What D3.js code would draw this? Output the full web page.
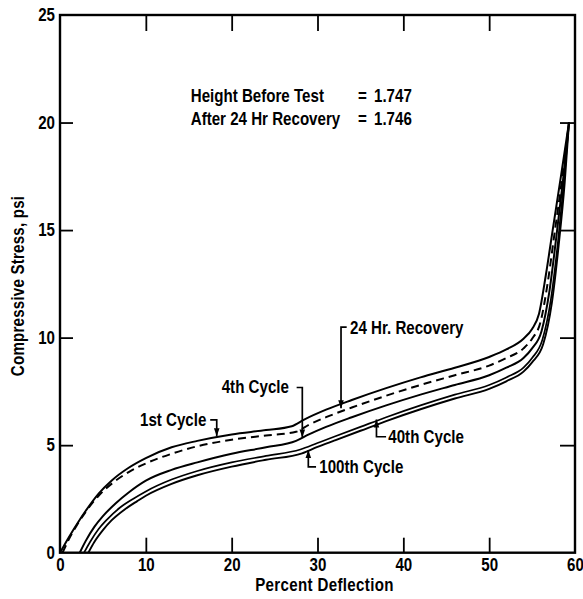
<!DOCTYPE html>
<html><head><meta charset="utf-8">
<script src="https://cdn.jsdelivr.net/npm/d3@7"></script>
<style>
body{margin:0;background:#fff}
svg{display:block}
text{font-family:"Liberation Sans",Arial,sans-serif;font-weight:bold;fill:#000}
</style></head><body><svg id="chart" width="583" height="599"></svg>
<script>
// ---- data ----
const deflectionTicks = [0, 10, 20, 30, 40, 50, 60];
const stressTicks = [0, 5, 10, 15, 20, 25];

const cycle1X = [0, 1, 2, 3, 4.5, 6, 8, 10, 13, 16, 20, 24, 27, 28.5, 31, 34, 38, 42, 46, 50, 52, 54, 55, 55.8, 56.6, 57.4, 58.4, 59.3];
const cycle1Y = [0, 0.7, 1.35, 1.95, 2.75, 3.35, 3.95, 4.4, 4.9, 5.2, 5.5, 5.7, 5.88, 6.2, 6.65, 7.1, 7.65, 8.15, 8.6, 9.1, 9.45, 9.95, 10.4, 11.1, 12.9, 15.0, 17.6, 20];

const recoveryX = [0.3, 1, 2, 3, 4.5, 6, 8, 10, 13, 16, 20, 24, 27.5, 29, 31, 34, 38, 42, 46, 50, 52, 54, 55, 56, 56.8, 57.6, 58.5, 59.3];
const recoveryY = [0, 0.6, 1.3, 1.9, 2.65, 3.2, 3.75, 4.15, 4.6, 4.95, 5.25, 5.45, 5.62, 5.95, 6.3, 6.75, 7.3, 7.8, 8.25, 8.7, 9.05, 9.5, 9.95, 10.75, 12.5, 14.8, 17.4, 20];

const cycle4X = [2.3, 3, 4, 5, 6.5, 8, 10, 13, 16, 20, 24, 27.5, 29, 31, 34, 38, 42, 46, 50, 52, 54, 55, 56.1, 57, 57.8, 58.6, 59.3];
const cycle4Y = [0, 0.55, 1.2, 1.7, 2.3, 2.8, 3.35, 3.85, 4.2, 4.6, 4.9, 5.2, 5.5, 5.85, 6.3, 6.85, 7.35, 7.8, 8.25, 8.6, 9.05, 9.5, 10.3, 12.1, 14.6, 17.3, 20];

const cycle40X = [2.8, 3.5, 4.5, 5.5, 7, 8.5, 10, 13, 16, 20, 24, 28, 30, 32, 35, 38, 42, 46, 50, 52, 54, 55, 56.2, 57.2, 58, 58.7, 59.3];
const cycle40Y = [0, 0.5, 1.1, 1.55, 2.1, 2.5, 2.85, 3.4, 3.8, 4.2, 4.5, 4.8, 5.1, 5.4, 5.85, 6.3, 6.85, 7.35, 7.8, 8.15, 8.6, 9.05, 9.9, 11.8, 14.4, 17.2, 20];

const cycle100X = [3.3, 4, 5, 6, 7.5, 9, 10, 13, 16, 20, 24, 28.2, 30, 32, 35, 38, 42, 46, 50, 52, 54, 55, 56.3, 57.3, 58.1, 58.8, 59.3];
const cycle100Y = [0, 0.5, 1.05, 1.5, 2.0, 2.4, 2.65, 3.2, 3.6, 4.0, 4.32, 4.62, 4.92, 5.22, 5.67, 6.12, 6.67, 7.17, 7.62, 7.97, 8.42, 8.85, 9.7, 11.6, 14.3, 17.2, 20];

const noteLines = [["Height Before Test", "=", "1.747"], ["After 24 Hr Recovery", "=", "1.746"]];

// ---- layout ----
const SX = 0.84; // horizontal squeeze for the narrow lettering
const svg = d3.select("#chart");
const M = {left: 60, right: 8, top: 15, bottom: 46.3};
const W = 583, H = 599;
const x = d3.scaleLinear().domain([0, 60]).range([M.left, W - M.right]);
const y = d3.scaleLinear().domain([0, 25]).range([H - M.bottom, M.top]);

function label(px, py, str, opts = {}) {
  const {anchor = "start", rot = 0, size = 18, ls = 0} = opts;
  return svg.append("text")
    .attr("transform", `translate(${px},${py}) rotate(${rot}) scale(${SX},1)`)
    .attr("text-anchor", anchor).style("font-size", size + "px").style("letter-spacing", ls + "px").text(str);
}

const series = [
  {xs: cycle1X, ys: cycle1Y, dash: null, w: 2},
  {xs: recoveryX, ys: recoveryY, dash: "8,5", w: 2},
  {xs: cycle4X, ys: cycle4Y, dash: null, w: 2},
  {xs: cycle40X, ys: cycle40Y, dash: null, w: 1.7},
  {xs: cycle100X, ys: cycle100Y, dash: null, w: 1.9}
];

const line = d3.line().x(d => x(d[0])).y(d => y(d[1])).curve(d3.curveMonotoneX);

// axes with inward ticks
const gB = svg.append("g").attr("transform", `translate(0,${y(0)})`)
  .call(d3.axisBottom(x).tickValues(deflectionTicks).tickSize(-15).tickSizeOuter(0).tickPadding(6).tickFormat(d3.format("d")));
const gL = svg.append("g").attr("transform", `translate(${x(0)},0)`)
  .call(d3.axisLeft(y).tickValues(stressTicks).tickSize(-13).tickSizeOuter(0).tickPadding(6).tickFormat(d3.format("d")));
const gT = svg.append("g").attr("transform", `translate(0,${y(25)})`)
  .call(d3.axisTop(x).tickValues(deflectionTicks.slice(1, -1)).tickSize(-16).tickSizeOuter(0).tickFormat(""));
const gR = svg.append("g").attr("transform", `translate(${x(60)},0)`)
  .call(d3.axisRight(y).tickValues(stressTicks.slice(1, -1)).tickSize(-15).tickSizeOuter(0).tickFormat(""));
[gB, gL, gT, gR].forEach(g => {
  g.select(".domain").remove();
  g.selectAll(".tick line").attr("stroke", "#000").attr("stroke-width", 1.8);
  g.selectAll(".tick text").style("font-size", "18px").attr("fill", "#000")
    .style("font-family", "'Liberation Sans',Arial,sans-serif").style("font-weight", "bold")
    .attr("transform", `scale(${SX},1)`);
});
gB.selectAll(".tick").filter(d => d === 0 || d === 60).select("line").remove();
gL.selectAll(".tick").filter(d => d === 0 || d === 25).select("line").remove();

// frame
svg.append("rect").attr("x", x(0)).attr("y", y(25)).attr("width", x(60) - x(0)).attr("height", y(0) - y(25))
  .attr("fill", "none").attr("stroke", "#000").attr("stroke-width", 2.4);

// curves
const plot = svg.append("g");
series.forEach(s => {
  plot.append("path").datum(s.xs.map((v, i) => [v, s.ys[i]]))
    .attr("d", line).attr("fill", "none").attr("stroke", "#000")
    .attr("stroke-width", s.w).attr("stroke-dasharray", s.dash);
});

// axis titles
label((x(0) + x(60)) / 2 + 7, 591, "Percent Deflection", {anchor: "middle", ls: 0.4});
label(24, y(12.4), "Compressive Stress, psi", {anchor: "middle", rot: -90, ls: 0.25});

// note
noteLines.forEach((ln, i) => {
  const by = y(20.94) + i * 22.6;
  label(x(15.23), by, ln[0]);
  label(x(34.72), by, ln[1]);
  label(x(36.58), by, ln[2]);
});

// annotations: label position, leader path (data coords), arrow tip, direction
const annotations = [
  {text: "1st Cycle", lx: 9.32, ly: 5.88, path: [[17.5, 6.18], [18.26, 6.18], [18.26, 5.41]], dir: "down"},
  {text: "4th Cycle", lx: 18.84, ly: 7.43, path: [[27.57, 7.68], [28.23, 7.68], [28.23, 5.36]], dir: "down"},
  {text: "24 Hr. Recovery", lx: 33.79, ly: 10.19, path: [[33.4, 10.49], [32.74, 10.49], [32.74, 6.72]], dir: "down"},
  {text: "40th Cycle", lx: 38.25, ly: 5.08, path: [[37.99, 5.39], [36.87, 5.39], [36.87, 6.19]], dir: "up"},
  {text: "100th Cycle", lx: 30.21, ly: 3.71, path: [[29.83, 3.99], [28.93, 3.99], [28.93, 4.77]], dir: "up"}
];
annotations.forEach(a => {
  label(x(a.lx), y(a.ly), a.text);
  const pts = a.path.map(p => [x(p[0]), y(p[1])]);
  svg.append("path").attr("d", d3.line()(pts)).attr("fill", "none").attr("stroke", "#000").attr("stroke-width", 1.7);
  const [tx, ty] = pts[pts.length - 1];
  const s = a.dir === "down" ? -1 : 1;
  svg.append("path").attr("d", `M${tx},${ty} L${tx - 2.8},${ty + s * 8} L${tx + 2.8},${ty + s * 8} Z`).attr("fill", "#000");
});
</script></body></html>
